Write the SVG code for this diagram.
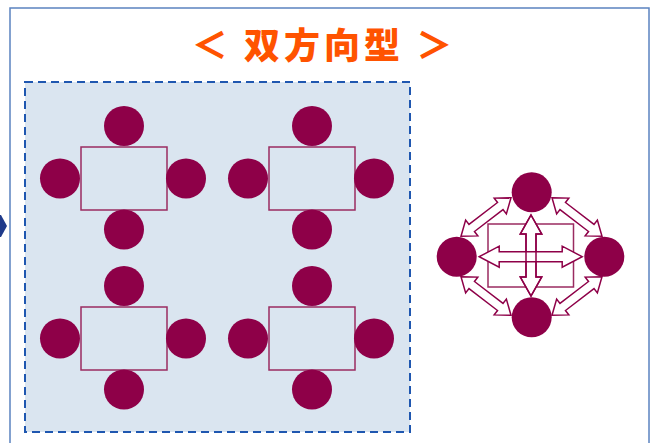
<svg xmlns="http://www.w3.org/2000/svg" width="652" height="443" viewBox="0 0 652 443">
<style>
.seat{fill:#8E0048}
.tbl{fill:none;stroke:#9A2B60;stroke-width:1.5}
.ar{fill:#FFFFFF;stroke:#8E0048;stroke-width:1.5;stroke-linejoin:miter}
.title{font-family:"Noto Sans CJK JP","Noto Sans CJK SC",sans-serif;font-weight:900;font-size:36px;fill:#FF5300;letter-spacing:4px}
</style>
<defs>
<path id="diag" d="M -31.5,0 L -18,-10 L -18,-4.5 L 18,-4.5 L 18,-10 L 31.5,0 L 18,10 L 18,4.5 L -18,4.5 L -18,10 Z"/>
<g id="table">
<rect class="tbl" x="-43" y="-31.5" width="86" height="63"/>
<circle class="seat" cx="0" cy="-52.5" r="20"/>
<circle class="seat" cx="-64" cy="0" r="20"/>
<circle class="seat" cx="62" cy="0" r="20"/>
<circle class="seat" cx="0" cy="51" r="20"/>
</g>
</defs>
<rect width="652" height="443" fill="#FFFFFF"/>
<rect id="frame" x="10" y="8" width="639" height="460" fill="none" stroke="#5B83C0" stroke-width="1.5"/>
<polygon id="chevron" points="0,215 1,215 7,226 1,237 0,237" fill="#1F3A8A"/>
<text id="title" class="title" x="324" y="59" text-anchor="middle">＜ 双方向型 ＞</text>
<g id="group-area">
<rect x="25" y="82" width="385" height="350" fill="#DAE5F0" stroke="#1F57B0" stroke-width="2" stroke-dasharray="8,5"/>
</g>
<g id="table-1"><use href="#table" x="124" y="178.5"/></g>
<g id="table-2"><use href="#table" x="312" y="178.5"/></g>
<g id="table-3"><use href="#table" x="124" y="338.5"/></g>
<g id="table-4"><use href="#table" x="312" y="338.5"/></g>
<g id="two-way">
<rect class="tbl" x="488" y="224" width="85.5" height="63"/>
<g id="connectors">
<use href="#diag" class="ar" transform="translate(486,217) rotate(-37.5)"/>
<use href="#diag" class="ar" transform="translate(486,296) rotate(37.5)"/>
<use href="#diag" class="ar" transform="translate(577,217) rotate(37.5)"/>
<use href="#diag" class="ar" transform="translate(577,296) rotate(-37.5)"/>
<path class="ar" transform="translate(531,255.5)" d="M 0,-40.5 L 10.7,-21.5 L 5,-21.5 L 5,21.5 L 10.7,21.5 L 0,40.5 L -10.7,21.5 L -5,21.5 L -5,-21.5 L -10.7,-21.5 Z"/>
<path class="ar" transform="translate(530.7,256.7)" d="M -51.5,0 L -31.5,-10.5 L -31.5,-5 L 31.5,-5 L 31.5,-10.5 L 51.5,0 L 31.5,10.5 L 31.5,5 L -31.5,5 L -31.5,10.5 Z"/>
<path class="ar" style="fill:none" transform="translate(531,255.5)" d="M 0,-40.5 L 10.7,-21.5 L 5,-21.5 L 5,21.5 L 10.7,21.5 L 0,40.5 L -10.7,21.5 L -5,21.5 L -5,-21.5 L -10.7,-21.5 Z"/>
</g>
<g id="person-top"><circle class="seat" cx="531.7" cy="192.3" r="20"/></g>
<g id="person-left"><circle class="seat" cx="456.7" cy="256.7" r="20"/></g>
<g id="person-right"><circle class="seat" cx="604.3" cy="256.7" r="20"/></g>
<g id="person-bottom"><circle class="seat" cx="531.7" cy="317.3" r="20"/></g>
</g>
</svg>
